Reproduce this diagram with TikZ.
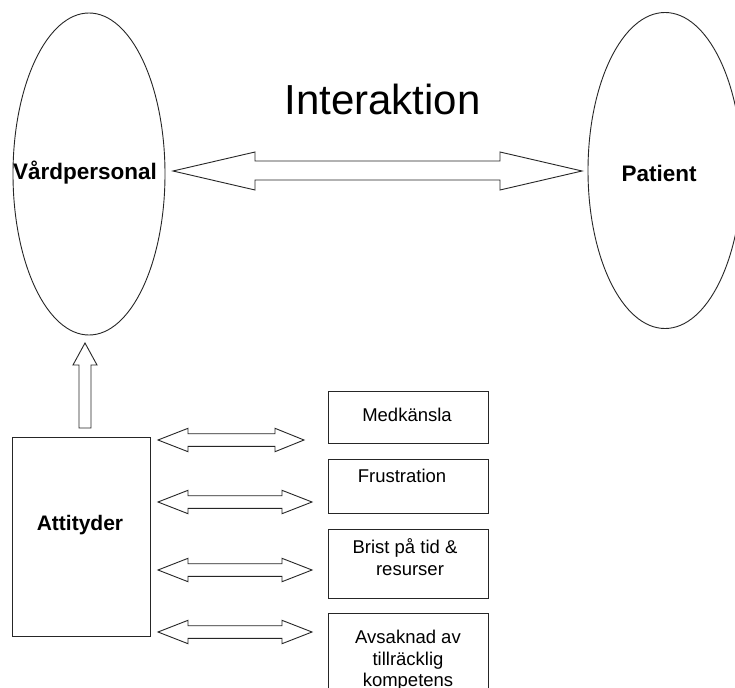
\documentclass[tikz,border=0pt]{standalone}
\usepackage{fontspec}
\setmainfont{Liberation Sans}
\usetikzlibrary{shapes.geometric}
\tikzset{
  ln/.style={draw=black!85, line width=0.9pt},
  oval/.style={ln, ellipse, inner sep=0pt},
  boxn/.style={ln, rectangle, inner sep=0pt},
  blockarrow/.style={ln, fill=white, line join=miter},
  big/.style={font=\fontsize{22.5}{26}\selectfont\bfseries, inner sep=0pt},
  small/.style={font=\fontsize{18.5}{22}\selectfont, inner sep=0pt, anchor=base},
}
\begin{document}
\begin{tikzpicture}[x=1pt,y=-1pt]
\clip (0,0) rectangle (735,687);
\fill[white] (0,0) rectangle (735,687);

% ellipses
\node[oval, minimum width=152pt, minimum height=322pt] (vp) at (89,174) {};
\node[big] (vptext) at (85,173) {Vårdpersonal};
\node[oval, minimum width=154pt, minimum height=316pt] (pat) at (665,170.5) {};
\node[big] (pattext) at (659,173) {Patient};

% title
\node[font=\fontsize{42}{48}\selectfont, inner sep=0pt, anchor=base] (inter) at (382.5,115) {Interaktion};

% big double arrow
\coordinate (bl) at (173,171);
\coordinate (br) at (582,171);
\draw[blockarrow] (bl) -- (255,152) -- (255,161) -- (500,161) -- (500,152) -- (br)
  -- (500,190) -- (500,180) -- (255,180) -- (255,190) -- cycle;

% attityder box
\node[boxn, minimum width=138pt, minimum height=199pt] (att) at (81,536.5) {};
\node[big, font=\fontsize{21}{25}\selectfont\bfseries] (atttext) at (80,525) {Attityder};

% up arrow
\coordinate (up) at (85,343);
\draw[blockarrow] (up) -- (97,365) -- (91,365) -- (91,428) -- (79,428) -- (79,365) -- (73,365) -- cycle;

% small double arrows
\foreach \y/\rb/\rt [count=\i] in {440/275/304, 502/282/312, 570/282/312, 632/282/312}{
  \draw[blockarrow] (158,\y) -- (188,\y-11.7) -- (188,\y-6.3) -- (\rb,\y-6.3) -- (\rb,\y-11.7) -- (\rt,\y)
    -- (\rb,\y+11.7) -- (\rb,\y+6.3) -- (188,\y+6.3) -- (188,\y+11.7) -- cycle;
}

% right boxes
\node[boxn, minimum width=160pt, minimum height=52pt] (b1) at (408,417) {};
\node[boxn, minimum width=160pt, minimum height=54pt] (b2) at (408,486) {};
\node[boxn, minimum width=160pt, minimum height=69pt] (b3) at (408,563.5) {};
\node[boxn, minimum width=160pt, minimum height=90pt] (b4) at (408,658) {};

\node[small] (t1) at (407,421) {Medkänsla};
\node[small] (t2) at (402,482) {Frustration};
\node[small] (t3a) at (405,553) {Brist på tid \&};
\node[small] (t3b) at (410,575) {resurser};
\node[small] (t4a) at (408,643) {Avsaknad av};
\node[small] (t4b) at (408,665) {tillräcklig};
\node[small] (t4c) at (408,686) {kompetens};
\end{tikzpicture}
\end{document}
